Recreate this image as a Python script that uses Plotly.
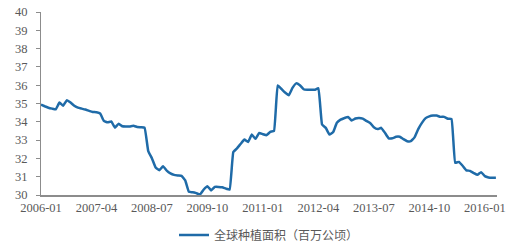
import plotly.graph_objects as go
import pandas as pd

months = [d.strftime("%Y-%m") for d in pd.date_range("2006-01-01", "2016-04-01", freq="MS")]

area = [
    34.94, 34.85, 34.77, 34.72, 34.68, 35.05, 34.88, 35.18, 35.05, 34.88,
    34.77, 34.72, 34.67, 34.60, 34.54, 34.52, 34.45, 34.05, 33.97, 34.02,
    33.68, 33.90, 33.76, 33.75, 33.75, 33.78, 33.72, 33.70, 33.68, 32.40,
    32.00, 31.50, 31.35, 31.57, 31.33, 31.18, 31.10, 31.07, 31.05, 30.80,
    30.17, 30.15, 30.10, 30.03, 30.30, 30.48, 30.25, 30.44, 30.44, 30.42,
    30.35, 30.30, 32.35, 32.55, 32.80, 33.03, 32.90, 33.30, 33.07, 33.39,
    33.32, 33.27, 33.45, 33.50, 35.99, 35.80, 35.60, 35.45, 35.85, 36.10,
    36.00, 35.78, 35.75, 35.75, 35.75, 35.83, 33.85, 33.67, 33.30, 33.44,
    33.95, 34.12, 34.20, 34.27, 34.07, 34.18, 34.21, 34.17, 34.05, 33.94,
    33.70, 33.60, 33.67, 33.40, 33.10, 33.10, 33.18, 33.18, 33.05, 32.94,
    32.94, 33.15, 33.60, 33.94, 34.20, 34.30, 34.34, 34.34, 34.27, 34.27,
    34.17, 34.15, 31.76, 31.81, 31.60, 31.35, 31.32, 31.20, 31.10, 31.25,
    31.03, 30.96, 30.94, 30.94,
]

tick_labels = ["2006-01", "2007-04", "2008-07", "2009-10", "2011-01",
               "2012-04", "2013-07", "2014-10", "2016-01"]
y_ticks = list(range(30, 41))
series_name = "全球种植面积（百万公顷）"

fig = go.Figure()
fig.add_trace(go.Scatter(
    x=months, y=area, mode="lines", name=series_name,
    line=dict(color="#1F6BA8", width=2.5, shape="spline", smoothing=0.3),
))

font_main = "Liberation Serif, Times New Roman, serif"
fig.update_layout(
    width=510, height=250,
    margin=dict(l=41, r=13, t=12, b=55, autoexpand=False),
    paper_bgcolor="white", plot_bgcolor="white",
    font=dict(family=font_main, size=12.5, color="#595959"),
    showlegend=True,
    legend=dict(
        orientation="h", x=0.5, xanchor="center",
        yref="container", y=0.06, yanchor="middle",
        font=dict(family="Noto Sans CJK SC, sans-serif", size=12, color="#595959"),
        itemwidth=30,
    ),
)
fig.update_xaxes(
    type="category", range=[0, len(months) - 0.7], automargin=False,
    tickmode="array", tickvals=tick_labels, ticktext=tick_labels,
    showgrid=False, showline=True, linecolor="#8C8C8C", linewidth=1.5,
    ticks="", tickangle=0, zeroline=False,
)
fig.update_yaxes(
    range=[30, 40], tickmode="array", tickvals=y_ticks, automargin=False,
    showgrid=False, showline=True, linecolor="#8C8C8C", linewidth=1,
    ticks="outside", ticklen=4, tickcolor="#8C8C8C", zeroline=False,
    ticklabelstandoff=6,
)
fig.write_html("out.html")
